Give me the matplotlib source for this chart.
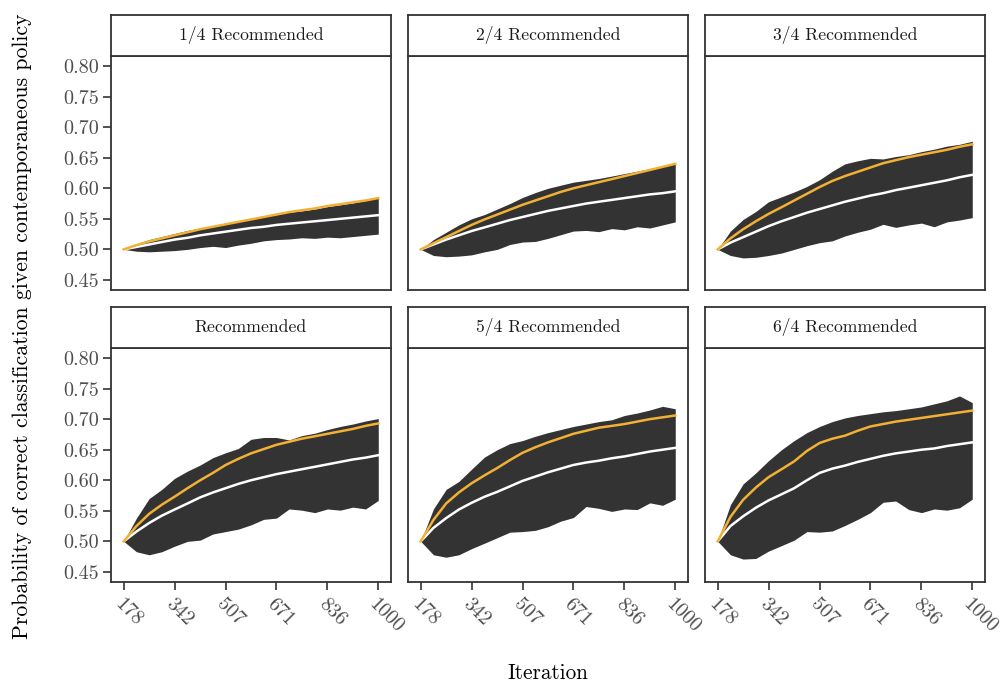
import matplotlib
matplotlib.use("Agg")
import matplotlib.pyplot as plt

plt.rcParams["font.family"] = ["cmr10", "DejaVu Serif"]
plt.rcParams["axes.formatter.use_mathtext"] = True
plt.rcParams["mathtext.fontset"] = "cm"

# Iterations at which the curves are sampled
iterations = [178, 219, 260, 301, 342, 384, 425, 466, 507, 548, 589,
              630, 671, 712, 753, 795, 836, 877, 918, 959, 1000]

panel_titles = ["1/4 Recommended", "2/4 Recommended", "3/4 Recommended",
                "Recommended", "5/4 Recommended", "6/4 Recommended"]

x_ticks = [178, 342, 507, 671, 836, 1000]
y_ticks = [0.45, 0.50, 0.55, 0.60, 0.65, 0.70, 0.75, 0.80]

# upper / lower edge of the dark band, white (mean) and orange lines per panel
band_upper = [
    [0.500, 0.509, 0.516, 0.521, 0.526, 0.531, 0.535, 0.539, 0.543, 0.547, 0.551,
     0.554, 0.557, 0.561, 0.563, 0.566, 0.570, 0.573, 0.576, 0.580, 0.585],
    [0.500, 0.516, 0.528, 0.540, 0.550, 0.557, 0.566, 0.575, 0.585, 0.593, 0.600,
     0.605, 0.610, 0.613, 0.616, 0.620, 0.624, 0.628, 0.632, 0.636, 0.640],
    [0.500, 0.530, 0.549, 0.562, 0.578, 0.586, 0.594, 0.603, 0.614, 0.628, 0.640,
     0.645, 0.649, 0.648, 0.652, 0.655, 0.660, 0.664, 0.669, 0.672, 0.677],
    [0.500, 0.538, 0.570, 0.585, 0.603, 0.615, 0.625, 0.637, 0.645, 0.652, 0.667,
     0.670, 0.670, 0.666, 0.673, 0.677, 0.683, 0.688, 0.692, 0.697, 0.701],
    [0.500, 0.553, 0.585, 0.598, 0.618, 0.638, 0.650, 0.660, 0.665, 0.672, 0.678,
     0.683, 0.688, 0.692, 0.696, 0.699, 0.706, 0.710, 0.715, 0.721, 0.717],
    [0.500, 0.560, 0.594, 0.612, 0.632, 0.650, 0.665, 0.678, 0.688, 0.696, 0.702,
     0.706, 0.709, 0.712, 0.714, 0.717, 0.720, 0.725, 0.730, 0.738, 0.727],
]
band_lower = [
    [0.500, 0.497, 0.496, 0.497, 0.498, 0.500, 0.503, 0.505, 0.503, 0.507, 0.510,
     0.514, 0.516, 0.517, 0.519, 0.518, 0.520, 0.519, 0.521, 0.523, 0.525],
    [0.500, 0.490, 0.488, 0.489, 0.491, 0.496, 0.500, 0.508, 0.512, 0.513, 0.518,
     0.524, 0.530, 0.531, 0.529, 0.534, 0.532, 0.537, 0.535, 0.540, 0.545],
    [0.500, 0.490, 0.486, 0.487, 0.490, 0.494, 0.500, 0.506, 0.511, 0.514, 0.522,
     0.528, 0.533, 0.541, 0.536, 0.540, 0.543, 0.537, 0.545, 0.548, 0.552],
    [0.500, 0.483, 0.478, 0.483, 0.492, 0.500, 0.502, 0.512, 0.516, 0.520, 0.527,
     0.536, 0.538, 0.553, 0.551, 0.547, 0.553, 0.551, 0.556, 0.553, 0.567],
    [0.500, 0.478, 0.474, 0.478, 0.488, 0.497, 0.506, 0.515, 0.516, 0.518, 0.524,
     0.533, 0.539, 0.557, 0.554, 0.549, 0.553, 0.552, 0.563, 0.559, 0.569],
    [0.500, 0.478, 0.471, 0.472, 0.484, 0.493, 0.502, 0.516, 0.515, 0.517, 0.526,
     0.536, 0.547, 0.564, 0.566, 0.552, 0.547, 0.553, 0.551, 0.555, 0.569],
]
mean_line = [
    [0.500, 0.504, 0.508, 0.512, 0.516, 0.519, 0.523, 0.526, 0.529, 0.532, 0.535,
     0.537, 0.540, 0.542, 0.544, 0.546, 0.548, 0.550, 0.552, 0.554, 0.556],
    [0.500, 0.508, 0.516, 0.523, 0.530, 0.536, 0.542, 0.548, 0.553, 0.558, 0.563,
     0.567, 0.571, 0.575, 0.578, 0.581, 0.584, 0.587, 0.590, 0.592, 0.595],
    [0.500, 0.511, 0.520, 0.529, 0.538, 0.546, 0.553, 0.560, 0.566, 0.572, 0.578,
     0.583, 0.588, 0.592, 0.597, 0.601, 0.605, 0.609, 0.613, 0.618, 0.622],
    [0.500, 0.516, 0.530, 0.542, 0.552, 0.562, 0.572, 0.580, 0.587, 0.594, 0.600,
     0.605, 0.610, 0.614, 0.618, 0.622, 0.626, 0.630, 0.634, 0.637, 0.641],
    [0.500, 0.522, 0.538, 0.552, 0.563, 0.573, 0.581, 0.590, 0.599, 0.606, 0.613,
     0.619, 0.625, 0.629, 0.632, 0.636, 0.639, 0.643, 0.647, 0.650, 0.653],
    [0.500, 0.525, 0.541, 0.555, 0.567, 0.577, 0.587, 0.600, 0.612, 0.619, 0.624,
     0.630, 0.635, 0.640, 0.644, 0.647, 0.650, 0.652, 0.656, 0.659, 0.662],
]
orange_line = [
    [0.500, 0.507, 0.513, 0.518, 0.523, 0.528, 0.533, 0.537, 0.541, 0.545, 0.549,
     0.553, 0.557, 0.561, 0.564, 0.567, 0.571, 0.574, 0.577, 0.580, 0.584],
    [0.500, 0.510, 0.520, 0.530, 0.540, 0.549, 0.557, 0.565, 0.573, 0.580, 0.587,
     0.594, 0.600, 0.605, 0.610, 0.615, 0.620, 0.625, 0.630, 0.635, 0.640],
    [0.500, 0.518, 0.533, 0.546, 0.558, 0.569, 0.580, 0.591, 0.602, 0.612, 0.620,
     0.627, 0.634, 0.641, 0.646, 0.651, 0.655, 0.659, 0.663, 0.668, 0.672],
    [0.500, 0.525, 0.545, 0.560, 0.573, 0.587, 0.600, 0.612, 0.625, 0.635, 0.644,
     0.651, 0.658, 0.663, 0.668, 0.672, 0.676, 0.680, 0.684, 0.689, 0.693],
    [0.500, 0.535, 0.562, 0.580, 0.595, 0.608, 0.620, 0.633, 0.645, 0.654, 0.662,
     0.669, 0.676, 0.681, 0.686, 0.689, 0.692, 0.696, 0.700, 0.703, 0.706],
    [0.500, 0.540, 0.568, 0.588, 0.605, 0.618, 0.631, 0.648, 0.661, 0.668, 0.673,
     0.681, 0.688, 0.692, 0.696, 0.699, 0.702, 0.705, 0.708, 0.711, 0.714],
]

BAND = "#333333"
ORANGE = "#F2B135"
FRAME = "#333333"

fig = plt.figure(figsize=(10, 7), dpi=100)

col_left = [0.111, 0.408, 0.705]
panel_w = 0.280
row_bottom = [0.5857, 0.1686]
panel_h = 0.3343
strip_h = 0.059

for i, title in enumerate(panel_titles):
    r, c = divmod(i, 3)
    ax = fig.add_axes([col_left[c], row_bottom[r], panel_w, panel_h])
    ax.fill_between(iterations, band_lower[i], band_upper[i], color=BAND, lw=0)
    ax.plot(iterations, mean_line[i], color="white", lw=1.8)
    ax.plot(iterations, orange_line[i], color=ORANGE, lw=1.8)

    ax.set_xlim(136.9, 1041.1)
    ax.set_ylim(0.4335, 0.8165)
    ax.set_xticks(x_ticks)
    ax.set_yticks(y_ticks)
    for s in ax.spines.values():
        s.set_color(FRAME)
        s.set_linewidth(1.3)
    ax.tick_params(colors=FRAME, length=5.5, width=1.2, labelcolor="#4D4D4D",
                   labelsize=14.5)
    if c == 0:
        ax.set_yticklabels([f"{v:.2f}" for v in y_ticks])
    else:
        ax.tick_params(axis="y", labelleft=False, left=False)
    if r == 1:
        ax.set_xticklabels([str(v) for v in x_ticks], rotation=-45,
                           ha="left", va="top", rotation_mode="anchor")
        ax.tick_params(axis="x", pad=4)
    else:
        ax.tick_params(axis="x", labelbottom=False, bottom=False)

    # facet strip
    sax = fig.add_axes([col_left[c], row_bottom[r] + panel_h, panel_w, strip_h])
    sax.set_xticks([])
    sax.set_yticks([])
    for s in sax.spines.values():
        s.set_color(FRAME)
        s.set_linewidth(1.3)
    sax.text(0.5, 0.5, title, ha="center", va="center", fontsize=12.7,
             color="#1A1A1A", transform=sax.transAxes)

fig.text(0.548, 1 - 673 / 700, "Iteration", ha="center", va="center", fontsize=15.3)
fig.text(0.022, 1 - 326 / 700,
         "Probability of correct classification given contemporaneous policy",
         ha="center", va="center", rotation=90, fontsize=15.7)

fig.savefig("out.png", dpi=100)
